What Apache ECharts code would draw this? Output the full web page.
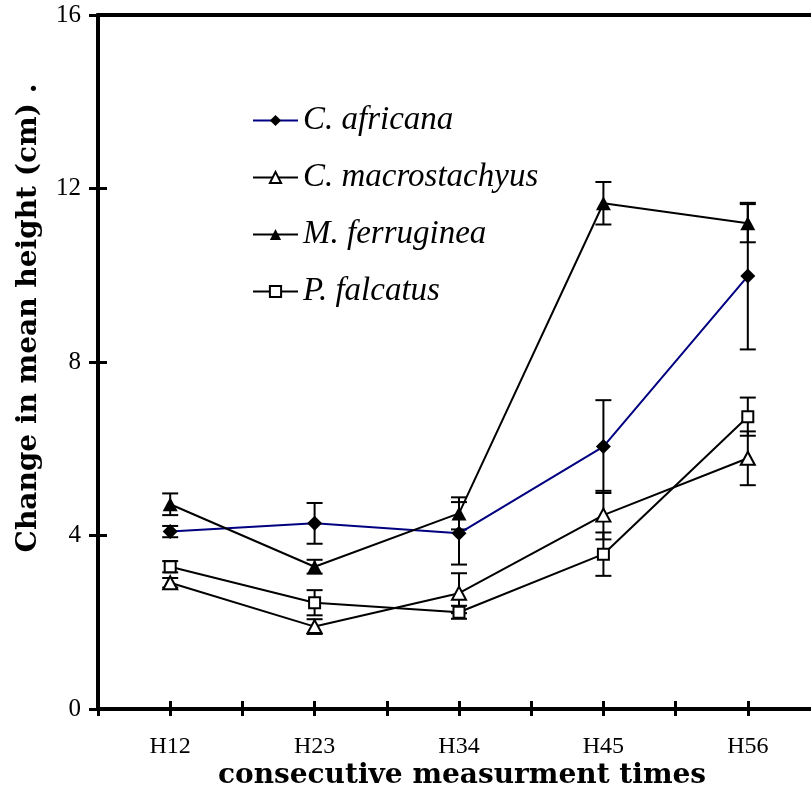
<!DOCTYPE html>
<html>
<head>
<meta charset="utf-8">
<script src="https://cdn.jsdelivr.net/npm/echarts@6/dist/echarts.min.js"></script>
<style>html,body{margin:0;padding:0;background:#fff;}#chart{width:811px;height:791px;}</style>
</head>
<body>
<div id="chart"></div>
<script>
var categories = ['H12', 'H23', 'H34', 'H45', 'H56'];
var yTicks = [0, 4, 8, 12, 16];

var africana = [4.09, 4.28, 4.05, 6.05, 9.98];
var africanaErr = [0.13, 0.47, 0.72, 1.07, 1.69];

var macrostachyus = [2.91, 1.90, 2.67, 4.47, 5.78];
var macrostachyusErr = [0.11, 0.17, 0.46, 0.56, 0.62];

var ferruginea = [4.72, 3.28, 4.51, 11.66, 11.20];
var ferrugineaErr = [0.25, 0.16, 0.37, 0.49, 0.44];

var falcatus = [3.28, 2.45, 2.23, 3.57, 6.74];
var falcatusErr = [0.13, 0.29, 0.15, 0.50, 0.44];

var seriesNames = ['C. africana', 'C. macrostachyus', 'M. ferruginea', 'P. falcatus'];

function pos(i) { return 2 * i + 1; }
function pts(vals) { return vals.map(function (v, i) { return [pos(i), v]; }); }
function errPts(vals, errs) { return vals.map(function (v, i) { return [pos(i), v, errs[i]]; }); }

var serifFont = 'Liberation Serif';

function errSeries(vals, errs) {
  return {
    type: 'custom',
    xAxisIndex: 0, yAxisIndex: 0,
    z: 1,
    silent: true,
    data: errPts(vals, errs),
    renderItem: function (params, api) {
      var x = api.value(0), y = api.value(1), e = api.value(2);
      var hi = api.coord([x, y + e]);
      var lo = api.coord([x, y - e]);
      var w = 8;
      var st = { stroke: '#000', lineWidth: 2 };
      return {
        type: 'group',
        children: [
          { type: 'line', shape: { x1: hi[0], y1: hi[1], x2: lo[0], y2: lo[1] }, style: st },
          { type: 'line', shape: { x1: hi[0] - w, y1: hi[1], x2: hi[0] + w, y2: hi[1] }, style: st },
          { type: 'line', shape: { x1: lo[0] - w, y1: lo[1], x2: lo[0] + w, y2: lo[1] }, style: st }
        ]
      };
    }
  };
}

var xAxisBase = {
  type: 'value', min: 0, max: 10, interval: 1,
  splitLine: { show: false },
  axisLine: { lineStyle: { color: '#000', width: 4 } }
};
var yAxisBase = {
  type: 'value', min: 0, max: 16, interval: 4,
  splitLine: { show: false },
  axisLine: { lineStyle: { color: '#000', width: 4 } }
};

var option = {
  animation: false,
  backgroundColor: '#fff',
  grid: { left: 98, top: 15, width: 722, height: 694, containLabel: false, outerBoundsMode: 'none' },
  xAxis: [
    Object.assign({}, xAxisBase, {
      position: 'bottom',
      axisTick: { show: true, inside: false, length: 7, lineStyle: { color: '#000', width: 3 } },
      axisLabel: {
        margin: 26,
        color: '#000', fontFamily: serifFont, fontSize: 24,
        formatter: function (v) { return (v % 2 === 1) ? categories[(v - 1) / 2] : ''; }
      }
    }),
    Object.assign({}, xAxisBase, {
      position: 'bottom',
      axisTick: { show: true, inside: true, length: 8, lineStyle: { color: '#000', width: 3 } },
      axisLabel: { show: false }
    }),
    Object.assign({}, xAxisBase, {
      position: 'top',
      axisTick: { show: false },
      axisLabel: { show: false }
    })
  ],
  yAxis: [
    Object.assign({}, yAxisBase, {
      position: 'left',
      axisTick: { show: true, inside: false, length: 9, lineStyle: { color: '#000', width: 3 } },
      axisLabel: {
        margin: 17,
        color: '#000', fontFamily: serifFont, fontSize: 25,
        formatter: function (v) { return yTicks.indexOf(v) >= 0 ? String(v) : ''; }
      }
    }),
    Object.assign({}, yAxisBase, {
      position: 'left',
      axisTick: { show: true, inside: true, length: 9, lineStyle: { color: '#000', width: 3 } },
      axisLabel: { show: false }
    })
  ],
  legend: {
    orient: 'vertical',
    left: 247, top: 99,
    itemWidth: 45, itemHeight: 14,
    itemGap: 24,
    data: seriesNames,
    textStyle: { color: '#000', fontFamily: serifFont, fontStyle: 'italic', fontSize: 33 }
  },
  graphic: [
    {
      type: 'text', x: 462, y: 776,
      style: {
        text: 'consecutive measurment times', x: 0, y: 0,
        font: 'bold 28px "DejaVu Serif"', fill: '#000',
        textAlign: 'center', textVerticalAlign: 'middle'
      }
    },
    {
      type: 'text', x: 29, y: 318, rotation: Math.PI / 2,
      style: {
        text: 'Change in mean height (cm) .', x: 0, y: 0,
        font: 'bold 28px "DejaVu Serif"', fill: '#000',
        textAlign: 'center', textVerticalAlign: 'middle'
      }
    }
  ],
  series: [
    errSeries(africana, africanaErr),
    errSeries(macrostachyus, macrostachyusErr),
    errSeries(ferruginea, ferrugineaErr),
    errSeries(falcatus, falcatusErr),
    {
      name: seriesNames[0], type: 'line', data: pts(africana), z: 3,
      symbol: 'diamond', symbolSize: [15, 15],
      lineStyle: { color: '#000080', width: 2 },
      itemStyle: { color: '#000', borderColor: '#000', borderWidth: 0 }
    },
    {
      name: seriesNames[1], type: 'line', data: pts(macrostachyus), z: 3,
      symbol: 'triangle', symbolSize: [14, 13],
      lineStyle: { color: '#000', width: 2 },
      itemStyle: { color: '#fff', borderColor: '#000', borderWidth: 2 }
    },
    {
      name: seriesNames[2], type: 'line', data: pts(ferruginea), z: 3,
      symbol: 'triangle', symbolSize: [15, 14],
      lineStyle: { color: '#000', width: 2 },
      itemStyle: { color: '#000', borderColor: '#000', borderWidth: 0 }
    },
    {
      name: seriesNames[3], type: 'line', data: pts(falcatus), z: 3,
      symbol: 'rect', symbolSize: [11, 11],
      lineStyle: { color: '#000', width: 2 },
      itemStyle: { color: '#fff', borderColor: '#000', borderWidth: 2 }
    }
  ]
};

var chart = echarts.init(document.getElementById('chart'), null, { renderer: 'canvas' });
chart.setOption(option);
</script>
</body>
</html>
